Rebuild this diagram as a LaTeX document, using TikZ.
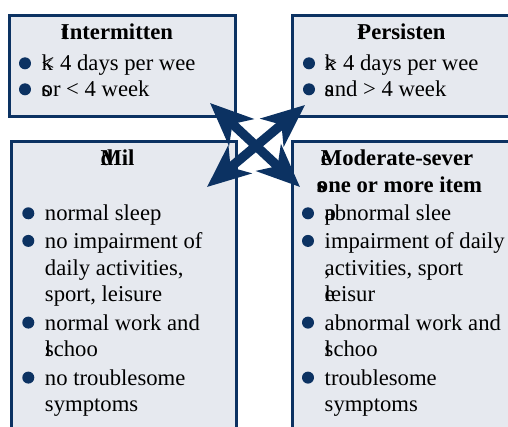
\documentclass[tikz,border=0pt]{standalone}
\usepackage{fontspec}
\setmainfont{Liberation Serif}
\newfontfamily\boxfont{Liberation Serif}
\usetikzlibrary{arrows.meta}
\definecolor{navy}{RGB}{12,50,98}
\definecolor{boxfill}{RGB}{230,233,239}

\begin{document}
\begin{tikzpicture}[x=0.75pt,y=-0.75pt,
  every node/.style={inner sep=0pt, outer sep=0pt},
  box/.style={draw=navy, fill=boxfill, line width=2.2pt, anchor=north west},
  txt/.style={anchor=base west, font=\boxfont\fontsize{17}{20}\selectfont},
  head/.style={anchor=base, font=\boxfont\fontsize{17}{20}\selectfont\bfseries},
  dot/.style={circle, fill=navy, minimum size=9pt},
  cross/.style={draw=navy, line width=7pt,
    arrows={Stealth[length=32pt,width=27pt,inset=9pt]-Stealth[length=32pt,width=27pt,inset=9pt]}}]
\useasboundingbox (0,0) rectangle (508,426);
\clip (0,0) rectangle (508,426);

% the four boxes
\node[box, minimum width=169.5pt, minimum height=75.4pt] (intermittent) at (9.5,15.5) {};
\node[box, minimum width=170.6pt, minimum height=75.4pt] (persistent) at (292.5,15.5) {};
\node[box, minimum width=168.8pt, minimum height=223.9pt] (mild) at (11.5,141.5) {};
\node[box, minimum width=170.6pt, minimum height=223.9pt] (modsev) at (292.5,141.5) {};

% intermittent
\node[head] (t1) at (117,39.3) {\rlap{t}Intermitten};
\node[dot] (d11) at (25,63.3) {};
\node[dot] (d12) at (25,89.3) {};
\node[txt] (l11) at (41.7,70.7) {\rlap{k}< 4 days per wee};
\node[txt] (l12) at (41.7,96.7) {\rlap{s}or < 4 week};

% persistent
\node[head] (t2) at (401.5,39.3) {\rlap{t}Persisten};
\node[dot] (d21) at (309,63.3) {};
\node[dot] (d22) at (309,89.3) {};
\node[txt] (l21) at (324.7,70.7) {\rlap{k}> 4 days per wee};
\node[txt] (l22) at (324.7,96.7) {\rlap{s}and > 4 week};

% mild
\node[head] (t3) at (117.5,165) {\rlap{d}Mil};
\node[dot] (d31) at (28.3,213.3) {};
\node[dot] (d32) at (28.3,240.9) {};
\node[dot] (d33) at (28.3,322.6) {};
\node[dot] (d34) at (28.3,377.6) {};
\node[txt] (l31) at (45,220.7) {normal sleep};
\node[txt] (l32) at (45,248.3) {no impairment of};
\node[txt] (l33) at (45,275) {daily activities,};
\node[txt] (l34) at (45,301.7) {sport, leisure};
\node[txt] (l35) at (45,330) {normal work and};
\node[txt] (l36) at (45,356.7) {\rlap{l}schoo};
\node[txt] (l37) at (45,385) {no troublesome};
\node[txt] (l38) at (45,411.7) {symptoms};

% moderate-severe
\node[head] (t4) at (397,165) {\rlap{e}Moderate-sever};
\node[head] (t5) at (399.5,192.7) {\rlap{s}one or more item};
\node[dot] (d41) at (308,213.3) {};
\node[dot] (d42) at (308,240.9) {};
\node[dot] (d43) at (308,322.6) {};
\node[dot] (d44) at (308,377.6) {};
\node[txt] (l41) at (324.7,220.7) {\rlap{p}abnormal slee};
\node[txt] (l42) at (324.7,248.3) {impairment of daily};
\node[txt] (l43) at (324.7,275) {\rlap{,}activities, sport};
\node[txt] (l44) at (324.7,301.7) {\rlap{e}leisur};
\node[txt] (l45) at (324.7,330) {abnormal work and};
\node[txt] (l46) at (324.7,356.7) {\rlap{l}schoo};
\node[txt] (l47) at (324.7,385) {troublesome};
\node[txt] (l48) at (324.7,411.7) {symptoms};

% crossing arrows
\coordinate (nw) at (210,103);
\coordinate (se) at (300,187);
\coordinate (ne) at (305,105);
\coordinate (sw) at (207,187);
\draw[cross] (nw) -- (se);
\draw[cross] (ne) -- (sw);
\end{tikzpicture}
\end{document}
